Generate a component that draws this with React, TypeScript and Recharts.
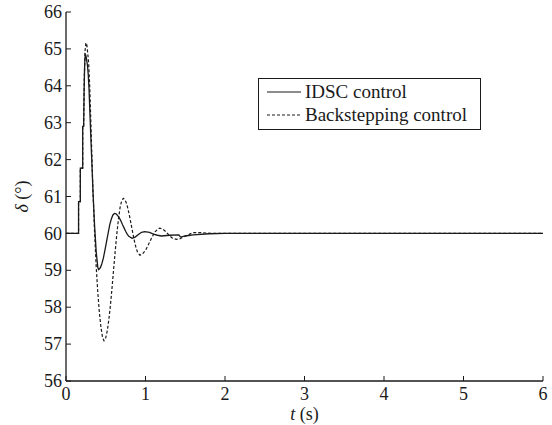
import { LineChart, Line, XAxis, YAxis, Legend, Label } from 'recharts'

// time (s) and rotor angle (deg)
const idscT = [0, 0.158, 0.158, 0.18, 0.18, 0.21, 0.21, 0.222, 0.228, 0.235, 0.242, 0.25, 0.26, 0.27, 0.28, 0.29, 0.3, 0.32, 0.34, 0.36, 0.38, 0.4, 0.41, 0.43, 0.45, 0.47, 0.49, 0.51, 0.53, 0.55, 0.57, 0.59, 0.61, 0.63, 0.65, 0.67, 0.69, 0.71, 0.73, 0.75, 0.77, 0.79, 0.83, 0.87, 0.91, 0.95, 0.99, 1.05, 1.1, 1.15, 1.2, 1.3, 1.42, 1.44, 1.5, 1.6, 1.8, 2.0, 6]
const idscV = [60, 60, 60.86, 60.86, 61.77, 61.77, 62.9, 62.9, 63.9, 64.6, 64.85, 64.82, 64.7, 64.55, 64.3, 63.9, 63.3, 62.2, 61.1, 60.2, 59.5, 59.08, 59.02, 59.06, 59.17, 59.33, 59.55, 59.78, 60.01, 60.23, 60.39, 60.5, 60.54, 60.53, 60.48, 60.42, 60.34, 60.24, 60.15, 60.06, 59.98, 59.92, 59.87, 59.9, 59.97, 60.03, 60.05, 60.03, 59.98, 59.95, 59.93, 59.95, 59.96, 59.9, 59.93, 59.96, 59.99, 60, 60]

const bsT = [0, 0.158, 0.158, 0.18, 0.18, 0.21, 0.21, 0.222, 0.23, 0.24, 0.25, 0.26, 0.27, 0.285, 0.3, 0.32, 0.34, 0.36, 0.38, 0.4, 0.42, 0.44, 0.46, 0.478, 0.5, 0.52, 0.54, 0.56, 0.58, 0.6, 0.62, 0.64, 0.66, 0.68, 0.7, 0.72, 0.74, 0.76, 0.78, 0.8, 0.82, 0.84, 0.86, 0.88, 0.9, 0.93, 0.96, 1.0, 1.04, 1.08, 1.12, 1.16, 1.18, 1.22, 1.26, 1.3, 1.34, 1.39, 1.43, 1.5, 1.6, 1.7, 1.85, 2.0, 6]
const bsV = [60, 60, 60.86, 60.86, 61.77, 61.77, 62.9, 62.9, 64.2, 64.95, 65.16, 65.15, 64.95, 64.62, 63.9, 62.5, 61.1, 60.0, 59.1, 58.4, 57.85, 57.45, 57.18, 57.09, 57.17, 57.37, 57.68, 58.08, 58.55, 59.05, 59.54, 60.0, 60.39, 60.7, 60.88, 60.95, 60.92, 60.82, 60.66, 60.46, 60.24, 60.01, 59.8, 59.62, 59.49, 59.41, 59.44, 59.54, 59.71, 59.89, 60.04, 60.13, 60.14, 60.11, 60.04, 59.94, 59.87, 59.84, 59.85, 59.93, 60.02, 60.02, 60.0, 60, 60]

const xTicks = [0, 1, 2, 3, 4, 5, 6]
const yTicks = [56, 57, 58, 59, 60, 61, 62, 63, 64, 65, 66]

const idscData = idscT.map((t, i) => ({ t, v: idscV[i] }))
const bsData = bsT.map((t, i) => ({ t, v: bsV[i] }))

const FONT = '"Liberation Serif", "Times New Roman", serif'
const INK = '#1a1a1a'
const axisLine = { stroke: INK, strokeWidth: 1.3 }

function XTick({ x, y, payload }: any) {
  return (
    <text x={x} y={y} dy="0.71em" textAnchor="middle" fontFamily={FONT} fontSize={18} fill={INK}>
      {payload.value}
    </text>
  )
}

function YTick({ x, y, payload }: any) {
  return (
    <text x={x} y={y} dy="0.34em" textAnchor="end" fontFamily={FONT} fontSize={18} fill={INK}>
      {payload.value}
    </text>
  )
}

function LegendBox() {
  const rows = [
    { name: 'IDSC control', dash: undefined },
    { name: 'Backstepping control', dash: '3 2' },
  ]
  return (
    <div style={{
      boxSizing: 'border-box', width: 223, height: 52, border: `1.5px solid ${INK}`,
      background: '#fff', paddingLeft: 8, paddingTop: 1, fontFamily: FONT, fontSize: 19, color: INK,
    }}>
      {rows.map(r => (
        <div key={r.name} style={{ height: 23, display: 'flex', alignItems: 'center' }}>
          <svg width={34} height={4} style={{ marginRight: 4, flexShrink: 0 }}>
            <line x1={0} y1={2} x2={34} y2={2} stroke={INK} strokeWidth={1.2} strokeDasharray={r.dash} />
          </svg>
          <span style={{ whiteSpace: 'nowrap', lineHeight: '23px' }}>{r.name}</span>
        </div>
      ))}
    </div>
  )
}

function XTitle({ viewBox }: any) {
  const cx = viewBox.x + viewBox.width / 2
  return (
    <text x={cx} y={viewBox.y + 39} textAnchor="middle" fontFamily={FONT} fontSize={18} fill={INK}>
      <tspan fontStyle="italic">t</tspan> (s)
    </text>
  )
}

function YTitle({ viewBox }: any) {
  const x = viewBox.x + 28
  const y = viewBox.y + viewBox.height / 2
  return (
    <text x={x} y={y} transform={`rotate(-90, ${x}, ${y})`} textAnchor="middle"
      fontFamily={FONT} fontSize={18} fill={INK}>
      <tspan fontStyle="italic">δ</tspan> (°)
    </text>
  )
}

export default function App() {
  return (
    <div style={{ position: 'absolute', left: 0, top: 0, width: 552, height: 425, background: '#fff' }}>
      <LineChart width={552} height={425} margin={{ top: 12, right: 9, bottom: 0, left: 0 }}>
        <XAxis dataKey="t" type="number" domain={[0, 6]} ticks={xTicks} allowDataOverflow
          height={44} axisLine={axisLine} tickLine={{ stroke: INK }} tickSize={-5} tickMargin={11}
          tick={<XTick />} interval={0}>
          <Label content={<XTitle />} />
        </XAxis>
        <XAxis xAxisId="top" orientation="top" dataKey="t" type="number" domain={[0, 6]}
          height={0} axisLine={axisLine} tick={false} tickLine={false} />
        <YAxis type="number" domain={[56, 66]} ticks={yTicks} width={66} interval={0}
          axisLine={axisLine} tickLine={{ stroke: INK }} tickSize={-5} tickMargin={9} tick={<YTick />}>
          <Label content={<YTitle />} />
        </YAxis>
        <YAxis yAxisId="right" orientation="right" type="number" domain={[56, 66]} width={0}
          axisLine={axisLine} tick={false} tickLine={false} />
        <Legend layout="horizontal" verticalAlign="middle" align="center" content={<LegendBox />}
          wrapperStyle={{ left: 258, top: 78, width: 223, height: 52 }} />
        <Line data={bsData} dataKey="v" type="linear" stroke={INK} strokeWidth={1.2}
          strokeDasharray="3 2" dot={false} isAnimationActive={false} />
        <Line data={idscData} dataKey="v" type="linear" stroke={INK} strokeWidth={1.3}
          dot={false} isAnimationActive={false} />
      </LineChart>
    </div>
  )
}
